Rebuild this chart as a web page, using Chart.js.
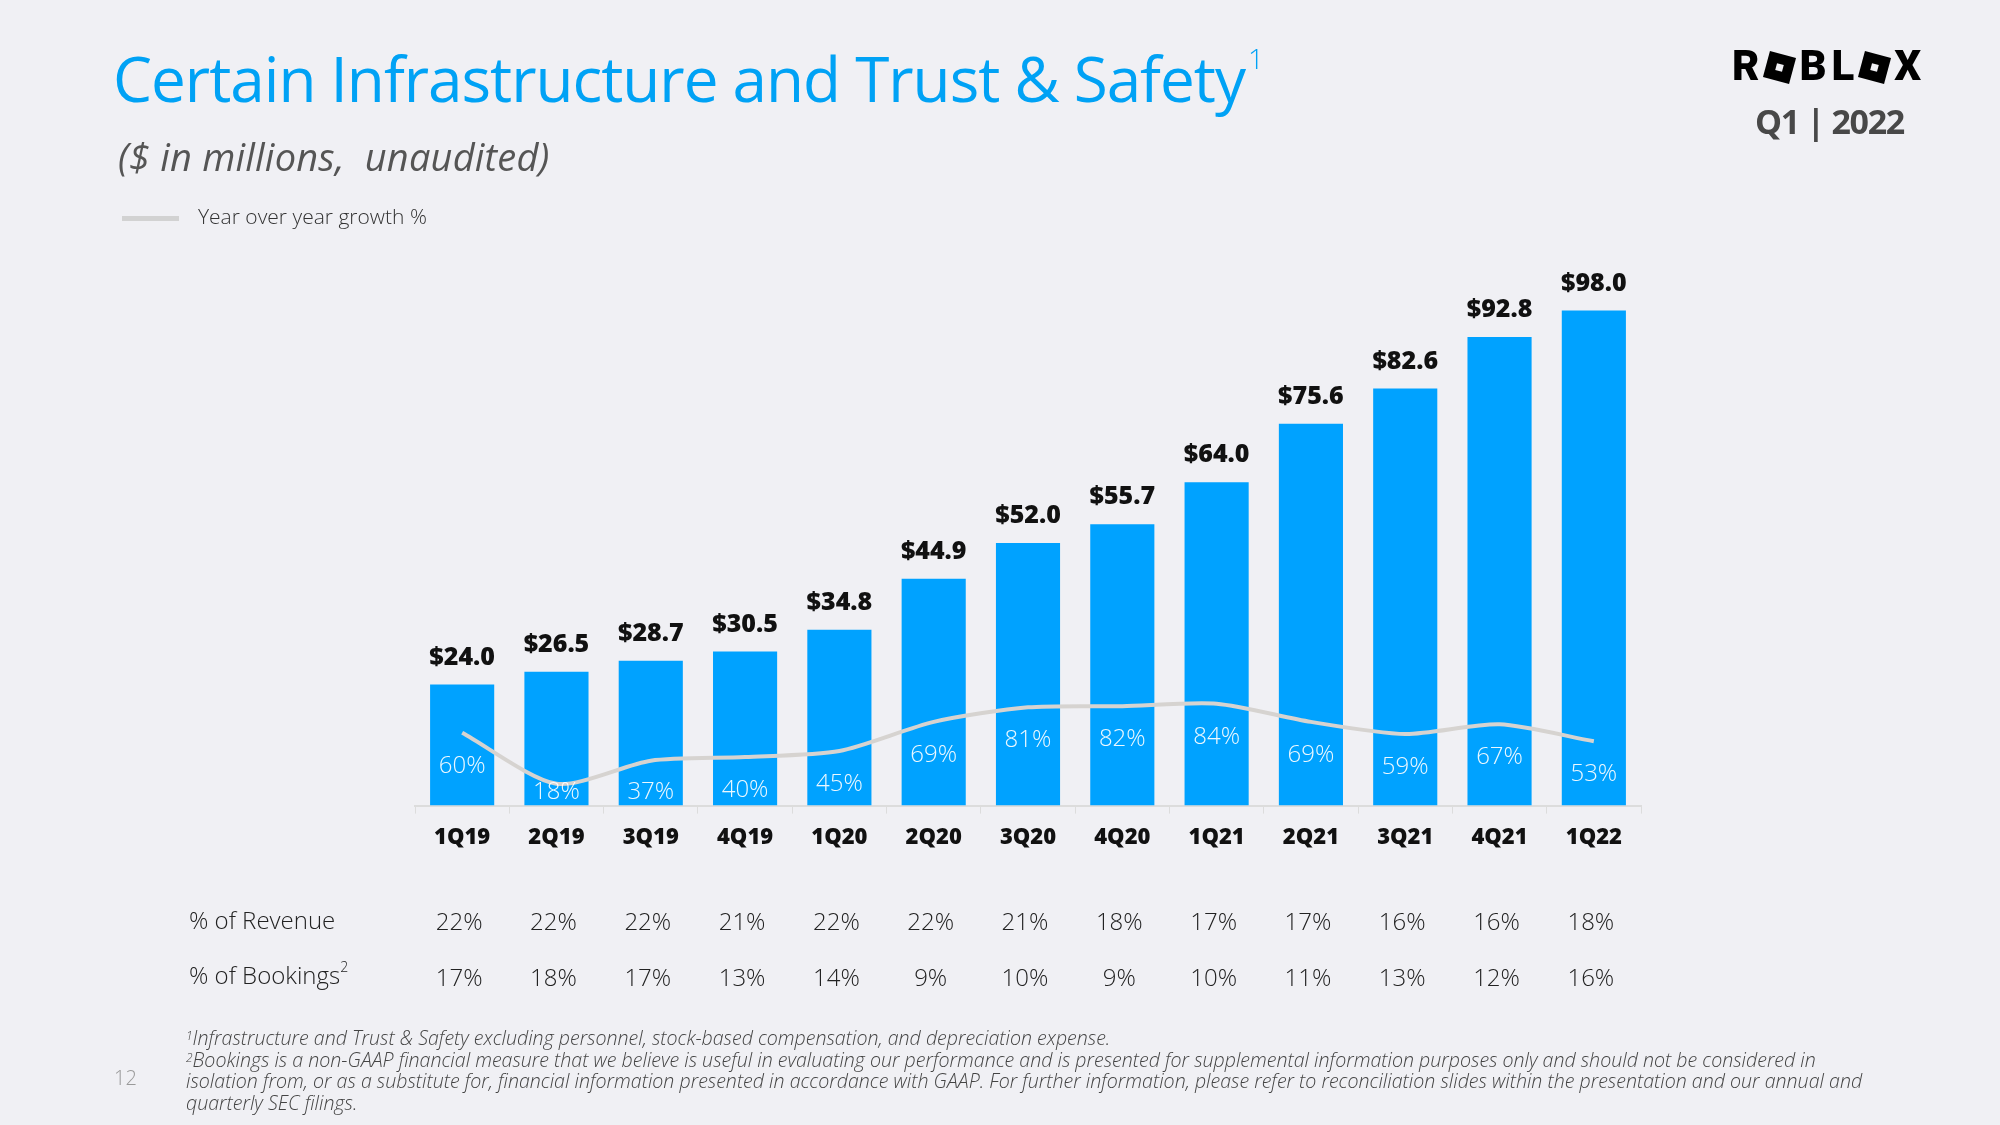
<!DOCTYPE html>
<html><head><meta charset="utf-8">
<script src="https://cdn.jsdelivr.net/npm/chart.js@4.4.1/dist/chart.umd.min.js"></script>
<style>
html,body{margin:0;padding:0;background:#f0f0f4;}
#page{position:relative;width:2000px;height:1125px;overflow:hidden;background:#f0f0f4;font-family:"Open Sans",sans-serif;}
#chartWrap{position:absolute;left:0;top:0;width:2000px;height:1125px;}
.t{position:absolute;white-space:nowrap;line-height:1;}
#title{left:113px;top:47px;font-size:62px;letter-spacing:-1px;color:#00a2f5;font-weight:400;}
#title sup{font-size:28px;font-weight:300;vertical-align:top;position:relative;top:-3px;margin-left:3px;}
#sub{left:118px;top:137px;font-size:38px;letter-spacing:0.2px;color:#555;font-style:italic;font-weight:400;}
#legLine{position:absolute;left:122px;top:216px;width:57px;height:5px;background:#d2d2d2;}
#legText{left:198px;top:206px;font-size:21px;color:#333;font-weight:300;}
#logo{position:absolute;left:1732px;top:46px;height:40px;font-family:Roboto,"DejaVu Sans",sans-serif;font-weight:900;font-size:42px;color:#000;line-height:40px;white-space:nowrap;letter-spacing:5px;}
#logo .sq{display:inline-block;width:27px;height:27px;background:#000;transform:rotate(15deg);position:relative;top:1px;margin:0 6px 0 2px;}
#logo .sq::after{content:"";position:absolute;left:10px;top:10px;width:7px;height:7px;background:#f0f0f4;}
#q1{left:1755px;top:104px;font-size:34px;letter-spacing:-1.3px;color:#484848;font-weight:700;}
#pn{left:114px;top:1068px;font-size:20px;color:#999;font-weight:300;}
.row{font-size:24px;color:#222;font-weight:300;left:189px;}
.row sup{font-size:14px;vertical-align:top;position:relative;top:-3px;}
#foot{position:absolute;left:186px;top:1027px;font-size:19.6px;line-height:21.7px;color:#444;font-style:italic;font-weight:300;white-space:nowrap;}
#foot sup{font-size:12px;vertical-align:top;position:relative;top:-2px;}
</style></head>
<body><div id="page">
<div id="chartWrap"><canvas id="c" width="2000" height="1125"></canvas></div>
<div class="t" id="title">Certain Infrastructure and Trust &amp; Safety<sup>1</sup></div>
<div class="t" id="sub">($ in millions,&nbsp; unaudited)</div>
<div id="legLine"></div>
<div class="t" id="legText">Year over year growth %</div>
<div id="logo" aria-label="ROBLOX">R<span class="sq"></span>BL<span class="sq"></span>X</div>
<div class="t" id="q1">Q1 | 2022</div>
<div class="t row" style="top:908px">% of Revenue</div>
<div class="t row" style="top:963px">% of Bookings<sup>2</sup></div>
<div class="t" id="pn">12</div>
<div id="foot"><sup>1</sup>Infrastructure and Trust &amp; Safety excluding personnel, stock-based compensation, and depreciation expense.<br><sup>2</sup>Bookings is a non-GAAP financial measure that we believe is useful in evaluating our performance and is presented for supplemental information purposes only and should not be considered in<br>isolation from, or as a substitute for, financial information presented in accordance with GAAP. For further information, please refer to reconciliation slides within the presentation and our annual and<br>quarterly SEC filings.</div>
</div>
<script>
const categories = ['1Q19','2Q19','3Q19','4Q19','1Q20','2Q20','3Q20','4Q20','1Q21','2Q21','3Q21','4Q21','1Q22'];
const costs = [24.0,26.5,28.7,30.5,34.8,44.9,52.0,55.7,64.0,75.6,82.6,92.8,98.0];
const growth = [60,18,37,40,45,69,81,82,84,69,59,67,53];
const revenuePct = [22,22,22,21,22,22,21,18,17,17,16,16,18];
const bookingsPct = [17,18,17,13,14,9,10,9,10,11,13,12,16];

const labelsPlugin = {
  id: 'labels',
  afterDatasetsDraw(chart) {
    const ctx = chart.ctx;
    const xs = chart.scales.x;
    const barMeta = chart.getDatasetMeta(1);
    const lineMeta = chart.getDatasetMeta(0);
    const axisY = chart.chartArea.bottom;
    ctx.save();
    ctx.textAlign = 'center';
    ctx.textBaseline = 'middle';
    ctx.fillStyle = '#111';
    ctx.font = '800 25px "Open Sans", sans-serif';
    barMeta.data.forEach((bar, i) => {
      ctx.fillText('$' + costs[i].toFixed(1), bar.x, bar.y - 27);
    });
    ctx.fillStyle = 'rgba(255,255,255,0.92)';
    ctx.font = '300 24px "Open Sans", sans-serif';
    lineMeta.data.forEach((pt, i) => {
      const y = Math.min(pt.y + 33, axisY - 13);
      ctx.fillText(growth[i] + '%', pt.x, y);
    });
    ctx.fillStyle = '#222';
    ctx.font = '300 24px "Open Sans", sans-serif';
    ctx.textBaseline = 'alphabetic';
    categories.forEach((c, i) => {
      const x = xs.getPixelForValue(i);
      ctx.fillText(revenuePct[i] + '%', x - 3, 930);
      ctx.fillText(bookingsPct[i] + '%', x - 3, 986);
    });
    ctx.restore();
  }
};

new Chart(document.getElementById('c'), {
  data: {
    labels: categories,
    datasets: [
      { type: 'line', label: 'Year over year growth %', data: growth, yAxisID: 'y2',
        borderColor: '#d6d3d0', borderWidth: 4, pointRadius: 0, tension: 0.25, order: 0 },
      { type: 'bar', label: 'Cost', data: costs, yAxisID: 'y',
        backgroundColor: '#00a2ff', barPercentage: 0.68, categoryPercentage: 1.0, order: 1 }
    ]
  },
  options: {
    responsive: false,
    animation: false,
    layout: { padding: { left: 415, right: 359, top: 250, bottom: 263 } },
    plugins: { legend: { display: false }, tooltip: { enabled: false } },
    scales: {
      x: {
        offset: true,
        grid: { display: true, drawOnChartArea: false, drawTicks: true, tickLength: 8, color: '#dcdcdc', offset: true },
        border: { display: true, color: '#dcdcdc', width: 2 },
        ticks: { color: '#111', font: { family: '"Open Sans", sans-serif', weight: '800', size: 22 }, padding: 11 }
      },
      y: { display: false, min: 0, max: 110 },
      y2: { display: false, min: 0, max: 458 }
    }
  },
  plugins: [labelsPlugin]
});
</script>
</body></html>
